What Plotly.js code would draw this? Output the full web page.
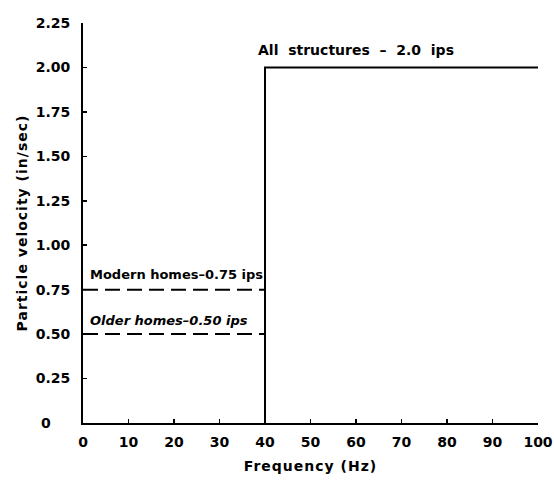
<!DOCTYPE html>
<html>
<head>
<meta charset="utf-8">
<script src="https://cdn.plot.ly/plotly-3.0.1.min.js"></script>
<style>
html,body{margin:0;padding:0;background:#fff;}
#chart{width:554px;height:480px;}
#chart text.xtitle, #chart text.ytitle{letter-spacing:1px;}
</style>
</head>
<body>
<div id="chart"></div>
<script>
// Data
const allStructFreq = [40, 40, 100];
const allStructVel = [0, 2.0, 2.0];
const modernFreq = [0, 40];
const modernVel = [0.75, 0.75];
const olderFreq = [0, 40];
const olderVel = [0.50, 0.50];
const xTicks = [0, 10, 20, 30, 40, 50, 60, 70, 80, 90, 100];
const yTicks = [0, 0.25, 0.5, 0.75, 1.0, 1.25, 1.5, 1.75, 2.0, 2.25];
const yTickText = ['0\u00a0\u00a0\u00a0\u00a0', '0.25', '0.50', '0.75', '1.00', '1.25', '1.50', '1.75', '2.00', '2.25'];
const labels = [
  {text: 'All\u00a0\u00a0structures\u00a0\u00a0\u2013\u00a0\u00a02.0\u00a0\u00a0ips', x: 38.0, y: 2.10, italic: false, size: 14},
  {text: 'Modern homes\u20130.75 ips', x: 1.2, y: 0.835, italic: false, size: 13},
  {text: 'Older homes\u20130.50 ips', x: 1.2, y: 0.575, italic: true, size: 13}
];

const fam = 'DejaVu Sans, Verdana, sans-serif';
const txtFont = {family: fam, size: 14, color: '#000', weight: 'bold'};
const tickFont = {family: fam, size: 14, color: '#000', weight: 'bold'};

const traces = [
  {x: allStructFreq, y: allStructVel, mode: 'lines', line: {color: '#000', width: 2}, hoverinfo: 'skip'},
  {x: modernFreq, y: modernVel, mode: 'lines', line: {color: '#000', width: 2, dash: '15px,7px'}, hoverinfo: 'skip'},
  {x: olderFreq, y: olderVel, mode: 'lines', line: {color: '#000', width: 2, dash: '15px,7px'}, hoverinfo: 'skip'}
];

const layout = {
  width: 554, height: 480,
  margin: {l: 83, r: 16, t: 23, b: 57},
  paper_bgcolor: '#fff', plot_bgcolor: '#fff',
  showlegend: false,
  font: txtFont,
  xaxis: {
    range: [0, 100], tickvals: xTicks, ticktext: xTicks.map(String),
    ticks: 'inside', ticklen: 4, tickwidth: 1.5, tickcolor: '#000',
    showline: true, linecolor: '#000', linewidth: 2, showgrid: false, zeroline: false,
    tickfont: tickFont, ticklabelstandoff: 5, ticklabeloverflow: 'allow',
    title: {text: 'Frequency (Hz)', font: txtFont, standoff: 12}
  },
  yaxis: {
    range: [0, 2.25], tickvals: yTicks, ticktext: yTickText,
    ticks: 'inside', ticklen: 4, tickwidth: 1.5, tickcolor: '#000',
    showline: true, linecolor: '#000', linewidth: 2, showgrid: false, zeroline: false,
    tickfont: tickFont, ticklabelstandoff: 8, ticklabeloverflow: 'allow',
    title: {text: 'Particle velocity (in/sec)', font: txtFont, standoff: 5}
  },
  annotations: labels.map(l => ({
    text: l.italic ? '<i>' + l.text + '</i>' : l.text,
    x: l.x, y: l.y, xref: 'x', yref: 'y',
    xanchor: 'left', yanchor: 'middle', showarrow: false,
    font: {family: fam, size: l.size, color: '#000', weight: 'bold'}
  }))
};

Plotly.newPlot('chart', traces, layout, {staticPlot: true, displayModeBar: false});
</script>
</body>
</html>
